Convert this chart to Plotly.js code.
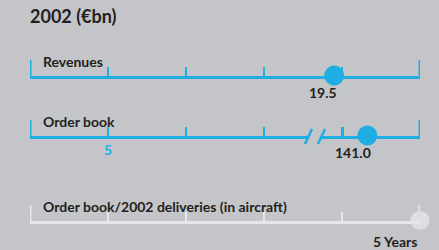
<!DOCTYPE html>
<html>
<head>
<meta charset="utf-8">
<script src="https://cdn.plot.ly/plotly-3.0.1.min.js"></script>
<style>html,body{margin:0;padding:0;background:#c4c5c9;}#chart{width:439px;height:250px;}</style>
</head>
<body>
<div id="chart"></div>
<script>
// ---- data ----
const chartTitle = '2002 (€bn)';
const categories = ['Revenues', 'Order book', 'Order book/2002 deliveries (in aircraft)'];
const values = [19.5, 141.0, 5];
const valueLabels = ['19.5', '141.0', '5 Years'];
const revenueTicks = [5, 10, 15, 20];
const orderTicksLow = [5, 10, 15];
const orderTickLabelsLow = ['5', '', ''];
const orderTicksHigh = [140];
const deliveryTicks = [1, 2, 3, 4];

// ---- style / layout ----
const W = 439, H = 250;
const BLUE = '#1eaee4', GREY = '#e6e7e9', DOT_GREY = '#dddee2', TXT = '#231f20', BG = '#c4c5c9';
const px = v => v / W;
const py = v => 1 - v / H;
const FONT = 'Lato, "Open Sans", sans-serif';

const revRange = [0, 25];
const ordLowRange = [0, (309 - 30) / 15.6];
const ordHighRange = [139.15, 143.1];
const delRange = [0, 5];

function axis(domain, range, anchor, color, tickvals, extra) {
  return Object.assign({
    domain: domain, range: range, anchor: anchor,
    showline: true, linecolor: color, linewidth: 3,
    ticks: 'inside', ticklen: 9, tickwidth: 2.5, tickcolor: color,
    tickmode: 'array', tickvals: tickvals,
    showticklabels: false, showgrid: false, zeroline: false, fixedrange: true
  }, extra || {});
}
function yax(bottom) {
  return {domain: [py(bottom), py(bottom) + 0.06], range: [0, 1], visible: false, fixedrange: true};
}

const rowY = [75.5, 135.5, 220.5];

const layout = {
  width: W, height: H,
  margin: {l: 0, r: 0, t: 0, b: 0},
  paper_bgcolor: BG, plot_bgcolor: 'rgba(0,0,0,0)',
  showlegend: false,
  font: {family: FONT, color: TXT},
  title: {text: chartTitle, x: px(30), xanchor: 'left', xref: 'paper', y: py(17), yanchor: 'middle',
          font: {family: FONT, size: 18, weight: 700, color: TXT}},
  xaxis: axis([px(30), px(420)], revRange, 'y', BLUE, revenueTicks),
  xaxis2: axis([px(30), px(309)], ordLowRange, 'y2', BLUE, orderTicksLow,
    {showticklabels: true, ticktext: orderTickLabelsLow, tickfont: {family: FONT, size: 14, weight: 700, color: BLUE}}),
  xaxis3: axis([px(321), px(420)], ordHighRange, 'y2', BLUE, orderTicksHigh),
  xaxis4: axis([px(30), px(420)], delRange, 'y3', GREY, deliveryTicks),
  yaxis: yax(rowY[0]),
  yaxis2: yax(rowY[1]),
  yaxis3: yax(rowY[2]),
  annotations: [],
  shapes: []
};

// end caps
function cap(xref, x, bottom, color) {
  return {type: 'line', xref: xref, yref: 'paper', x0: x, x1: x, y0: py(bottom + 3) , y1: py(bottom - 15.5),
          line: {color: color, width: 3}, layer: 'below'};
}
layout.shapes.push(cap('x', revRange[0], rowY[0], BLUE), cap('x', revRange[1], rowY[0], BLUE));
layout.shapes.push(cap('x2', ordLowRange[0], rowY[1], BLUE), cap('x3', ordHighRange[1], rowY[1], BLUE));
layout.shapes.push(cap('x4', delRange[0], rowY[2], GREY), cap('x4', delRange[1], rowY[2], GREY));
// break marks
[[305, 312], [318, 325]].forEach(s => {
  layout.shapes.push({type: 'line', xref: 'paper', yref: 'paper', x0: px(s[0]), x1: px(s[1]),
    y0: py(144), y1: py(129), line: {color: BLUE, width: 2.5}});
});

// category labels
const labelY = [61, 121, 206];
categories.forEach((c, i) => {
  layout.annotations.push({text: c, xref: 'paper', yref: 'paper', x: px(41), y: py(labelY[i]),
    xanchor: 'left', yanchor: 'middle', showarrow: false,
    font: {family: FONT, size: 14, weight: 700, color: TXT}});
});
// value labels
const vfont = {family: FONT, size: 14, weight: 700, color: TXT};
layout.annotations.push({text: valueLabels[0], xref: 'x', yref: 'paper', x: values[0], y: py(92.5),
  xshift: -11, xanchor: 'center', yanchor: 'middle', showarrow: false, font: vfont});
layout.annotations.push({text: valueLabels[1], xref: 'x3', yref: 'paper', x: values[1], y: py(152.5),
  xshift: -14, xanchor: 'center', yanchor: 'middle', showarrow: false, font: vfont});
layout.annotations.push({text: valueLabels[2], xref: 'x4', yref: 'paper', x: values[2], y: py(241),
  xshift: -1, xanchor: 'right', yanchor: 'middle', showarrow: false, font: vfont});

const traces = [
  {x: [values[0]], y: [0], xaxis: 'x', yaxis: 'y', type: 'scatter', mode: 'markers', cliponaxis: false,
   marker: {size: 20, color: BLUE}, hoverinfo: 'skip'},
  {x: [values[1]], y: [0], xaxis: 'x3', yaxis: 'y2', type: 'scatter', mode: 'markers', cliponaxis: false,
   marker: {size: 20, color: BLUE}, hoverinfo: 'skip'},
  {x: [values[2]], y: [0], xaxis: 'x4', yaxis: 'y3', type: 'scatter', mode: 'markers', cliponaxis: false,
   marker: {size: 19, color: DOT_GREY}, hoverinfo: 'skip'}
];

Plotly.newPlot('chart', traces, layout, {displayModeBar: false, staticPlot: true});
</script>
</body>
</html>
